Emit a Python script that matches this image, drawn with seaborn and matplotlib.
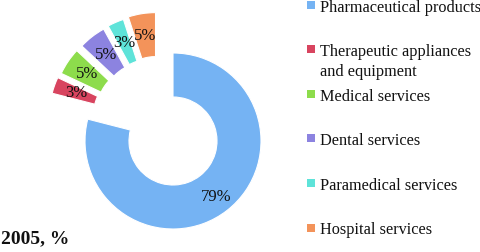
import matplotlib
matplotlib.use("Agg")
import numpy as np
import matplotlib.pyplot as plt
import seaborn as sns

# health expenditure breakdown, 2005
categories = ["Pharmaceutical products", "Therapeutic appliances\nand equipment",
              "Medical services", "Dental services", "Paramedical services",
              "Hospital services"]
shares = [79, 3, 5, 5, 3, 5]
colors = ["#75b3f3", "#d8445f", "#8ddc4c", "#8c83e0", "#5ee3d9", "#f3935a"]
title = "2005, %"

sns.set_theme(style="white")
plt.rcParams["font.family"] = ["Liberation Serif", "DejaVu Serif"]

W, H = 480, 252
fig = plt.figure(figsize=(W / 100, H / 100), dpi=100)

# pie axes: 1 data unit = 88 px, centre at (173, 141) px from top-left
R, cx, cy = 88.0, 173.0, 141.0
ax = fig.add_axes([0, 0, 1, 1])
wedges, _ = ax.pie(
    shares, colors=colors, startangle=90, counterclock=False,
    wedgeprops=dict(width=0.5, edgecolor="white", linewidth=0.8))
ax.set_xlim(-cx / R, (W - cx) / R)
ax.set_ylim(-(H - cy) / R, cy / R)
ax.set_aspect("auto")
ax.axis("off")

# small slices pulled out, half towards their own direction, half towards the group
small = wedges[1:]
group_mid = np.deg2rad((min(w.theta1 for w in small) + max(w.theta2 for w in small)) / 2)
for i, w in enumerate(wedges):
    mid = np.deg2rad((w.theta1 + w.theta2) / 2)
    off = np.zeros(2)
    dist = 0.8
    if i > 0:
        d = (mid + group_mid) / 2
        off = 0.5 * np.array([np.cos(d), np.sin(d)])
        w.set_center(tuple(off))
        dist = 0.74
    pos = off + dist * np.array([np.cos(mid), np.sin(mid)])
    ax.text(pos[0], pos[1], f"{shares[i]}%", ha="center", va="center",
            fontsize=12, color="#111111")

# legend drawn in pixel coordinates
lax = fig.add_axes([0, 0, 1, 1])
lax.set_xlim(0, W)
lax.set_ylim(H, 0)
lax.axis("off")
y0, step = 4.5, 44.6
for i, (lab, col) in enumerate(zip(categories, colors)):
    y = y0 + step * i
    lax.scatter([311], [y], marker="s", s=26, color=col, linewidths=0)
    lax.text(319.5, y - 5, lab, fontsize=11.7, va="top", ha="left",
             color="#111111", linespacing=1.3)

fig.text(1 / W, 1 - 239 / H, title, fontsize=14, fontweight="bold",
         va="center", ha="left", color="#111111")

fig.savefig("out.png", dpi=100)
